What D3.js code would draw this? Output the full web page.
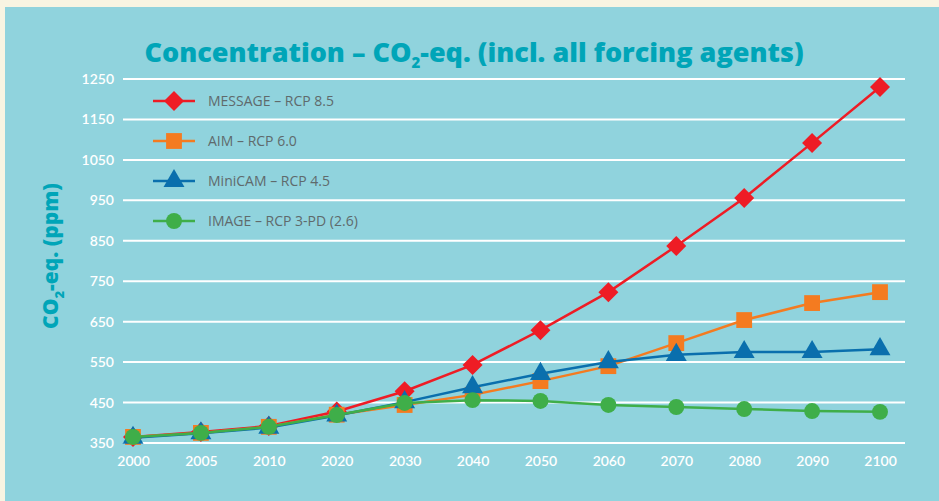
<!DOCTYPE html>
<html>
<head>
<meta charset="utf-8">
<script src="https://cdn.jsdelivr.net/npm/d3@7"></script>
<style>
	body { margin: 0; background: #f8f4e2; }
	svg { display: block; }
</style>
</head>
<body>
<div id="chart"></div>
<script>
var years = ["2000", "2005", "2010", "2020", "2030", "2040", "2050", "2060", "2070", "2080", "2090", "2100"];
var yTicks = [350, 450, 550, 650, 750, 850, 950, 1050, 1150, 1250];

var message = [365, 377, 392, 428, 478, 543, 629, 723, 837, 956, 1092, 1230];
var aim = [365, 375, 390, 420, 444, 469, 503, 540, 597, 654, 696, 723];
var minicam = [363, 374, 388, 418, 451, 488, 521, 550, 568, 575, 575, 582];
var image = [365, 375, 390, 419, 449, 456, 454, 444, 439, 434, 429, 427];

var seriesNames = ["MESSAGE – RCP 8.5", "AIM – RCP 6.0", "MiniCAM – RCP 4.5", "IMAGE – RCP 3-PD (2.6)"];
var seriesColors = ["#ee1c25", "#f47b20", "#0a6fad", "#3fae49"];
var seriesShapes = [d3.symbolSquare, d3.symbolSquare, d3.symbolTriangle, d3.symbolCircle];
var seriesRotate = [45, 0, 0, 0];
var seriesSizes = [200, 250, 190, 200];
var seriesValues = [message, aim, minicam, image];

var W = 939, H = 501;

var svg = d3.select("#chart")
	.append("svg")
	.attr("width", W)
	.attr("height", H);

// blue panel
svg.append("rect")
	.attr("x", 5)
	.attr("y", 7)
	.attr("width", W - 5)
	.attr("height", H - 7)
	.attr("fill", "#90d3dd");

var x = d3.scalePoint()
	.domain(years)
	.range([133, 880]);

var y = d3.scaleLinear()
	.domain([350, 1250])
	.range([443, 79]);

// gridlines
svg.append("g")
	.selectAll("line")
	.data(yTicks)
	.enter()
	.append("line")
	.attr("x1", 123)
	.attr("x2", 905)
	.attr("y1", function (d) { return y(d); })
	.attr("y2", function (d) { return y(d); })
	.attr("stroke", "#ffffff")
	.attr("stroke-width", 2);

// y axis labels
var yAxis = svg.append("g")
	.attr("transform", "translate(114,0)")
	.call(d3.axisLeft(y).tickValues(yTicks).tickFormat(d3.format("d")).tickSize(0).tickPadding(0));
yAxis.select(".domain").remove();
yAxis.selectAll("text")
	.attr("fill", "#ffffff")
	.style("font-family", "Lato, 'Open Sans', sans-serif")
	.style("font-size", "14px")
	.style("font-weight", "600");

// x axis labels
var xAxis = svg.append("g")
	.attr("transform", "translate(0,456)")
	.call(d3.axisBottom(x).tickSize(0).tickPadding(0));
xAxis.select(".domain").remove();
xAxis.selectAll("text")
	.attr("fill", "#ffffff")
	.style("font-family", "Lato, 'Open Sans', sans-serif")
	.style("font-size", "14px")
	.style("font-weight", "600");

// series lines + markers
var line = d3.line()
	.x(function (d, i) { return x(years[i]); })
	.y(function (d) { return y(d); });

seriesValues.forEach(function (vals, s) {
	svg.append("path")
		.datum(vals)
		.attr("fill", "none")
		.attr("stroke", seriesColors[s])
		.attr("stroke-width", 2.5)
		.attr("d", line);

	svg.append("g")
		.selectAll("path")
		.data(vals)
		.enter()
		.append("path")
		.attr("transform", function (d, i) {
			return "translate(" + x(years[i]) + "," + y(d) + ") rotate(" + seriesRotate[s] + ")";
		})
		.attr("d", d3.symbol().type(seriesShapes[s]).size(seriesSizes[s]))
		.attr("fill", seriesColors[s]);
});

// legend
seriesNames.forEach(function (name, s) {
	var ly = 101 + s * 40;
	svg.append("line")
		.attr("x1", 153)
		.attr("x2", 195)
		.attr("y1", ly)
		.attr("y2", ly)
		.attr("stroke", seriesColors[s])
		.attr("stroke-width", 2.5);
	svg.append("path")
		.attr("transform", "translate(174," + ly + ") rotate(" + seriesRotate[s] + ")")
		.attr("d", d3.symbol().type(seriesShapes[s]).size(seriesSizes[s]))
		.attr("fill", seriesColors[s]);
	svg.append("text")
		.attr("x", 208)
		.attr("y", ly + 5)
		.attr("fill", "#5f6a6c")
		.style("font-family", "'Open Sans', sans-serif")
		.style("font-size", "14px")
		.text(name);
});

// title
var title = svg.append("text")
	.attr("x", 474)
	.attr("y", 62)
	.attr("text-anchor", "middle")
	.attr("fill", "#00a5b8")
	.style("font-family", "'Open Sans', sans-serif")
	.style("font-size", "27px")
	.style("font-weight", "800");
title.append("tspan").text("Concentration – CO");
title.append("tspan").attr("dy", 6).style("font-size", "15px").text("2");
title.append("tspan").attr("dy", -6).text("-eq. (incl. all forcing agents)");

// y label
var yl = svg.append("text")
	.attr("transform", "translate(58,256) rotate(-90)")
	.attr("text-anchor", "middle")
	.attr("fill", "#00a5b8")
	.style("font-family", "'Open Sans', sans-serif")
	.style("font-size", "21px")
	.style("font-weight", "800");
yl.append("tspan").text("CO");
yl.append("tspan").attr("dy", 6).style("font-size", "13px").text("2");
yl.append("tspan").attr("dy", -6).text("-eq. (ppm)");
</script>
</body>
</html>
